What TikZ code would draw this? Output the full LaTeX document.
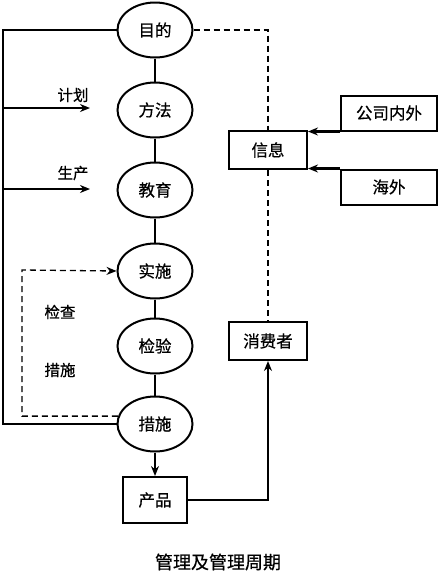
\documentclass[tikz,border=0pt]{standalone}
\usepackage{fontspec}
\setmainfont{Noto Sans CJK SC}[FakeBold=0.6]
\usetikzlibrary{arrows.meta,calc,shapes.geometric}

\tikzset{
    stage/.style={ellipse, draw, line width=2pt, minimum width=75pt,
        minimum height=55pt, inner sep=0pt, font=\fontsize{16.5}{16.5}\selectfont},
    infobox/.style={rectangle, draw, line width=2pt, inner sep=0pt,
        font=\fontsize{16.5}{16.5}\selectfont},
    lbl/.style={font=\fontsize{15.5}{15.5}\selectfont},
    frameline/.style={line width=2.2pt},
    linkline/.style={line width=1.6pt},
    dashline/.style={line width=1.3pt, dash pattern=on 6pt off 4pt},
    tip/.style={-{Stealth[length=10pt,width=8pt]}},
}

\begin{document}
\begin{tikzpicture}[x=1pt, y=-1pt]

    \useasboundingbox (0,0) rectangle (440,574);

    % 管理周期の楕円
    \node[stage] (aim)     at (155,30)  {目的};
    \node[stage] (method)  at (155,110) {方法};
    \node[stage] (educate) at (155,190) {教育};
    \node[stage] (execute) at (155,271) {实施};
    \node[stage] (check)   at (155,346) {检验};
    \node[stage] (act)     at (155,424) {措施};

    \draw[linkline] (aim) -- (method) -- (educate) -- (execute) -- (check) -- (act);

    % 左側の枠線
    \coordinate (ltop) at (3,30);
    \coordinate (lbot) at (3,424);
    \draw[frameline] (aim.west) -- (ltop) -- (lbot) -- (act.west);

    % 計画・生産の矢印
    \coordinate (plan)  at (3,108);
    \coordinate (prod)  at (3,189);
    \draw[frameline, tip] (plan) -- (90,108);
    \draw[frameline, tip] (prod) -- (90,189);
    \node[lbl] at (73,95)  {计划};
    \node[lbl] at (73,173) {生产};

    % 点線のフィードバック
    \coordinate (fbl) at (22,270);
    \draw[dashline, tip] (act.168) -| (fbl) -- (execute.west);
    \node[lbl] at (60,312) {检查};
    \node[lbl] at (60,370) {措施};

    % 情報のボックス
    \node[infobox, minimum width=78pt, minimum height=38pt] (info)      at (268,150) {信息};
    \node[infobox, minimum width=96pt, minimum height=35pt] (inout)     at (389,113) {公司内外};
    \node[infobox, minimum width=96pt, minimum height=35pt] (overseas)  at (389,187) {海外};
    \node[infobox, minimum width=78pt, minimum height=38pt] (consumer)  at (268,341) {消费者};
    \node[infobox, minimum width=64pt, minimum height=46pt] (product)   at (155,500) {产品};

    \draw[frameline, tip] (inout.south west) -- (info.east |- inout.south west);
    \draw[frameline, tip] (overseas.north west) -- (info.east |- overseas.north west);

    % 目的から消費者への点線
    \coordinate (dtop) at (268,30);
    \draw[dashline] (aim.east) -- (dtop) -- (info.north);
    \draw[dashline] (info.south) -- (consumer.north);

    % 製品の流れ
    \draw[linkline, tip] (act.south) -- (product.north);
    \draw[linkline, tip] (product.east) -| (consumer.south);

    % 図のタイトル
    \node[font=\fontsize{18}{18}\selectfont] (title) at (218,562) {管理及管理周期};

\end{tikzpicture}
\end{document}
